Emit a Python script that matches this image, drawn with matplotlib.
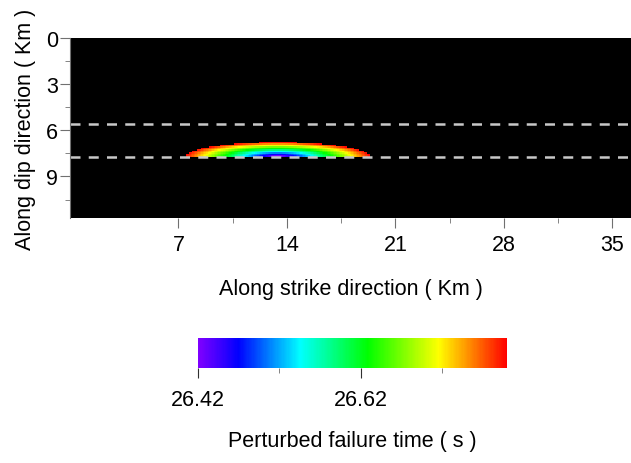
import numpy as np
import matplotlib
matplotlib.use("Agg")
import matplotlib.pyplot as plt
from matplotlib.colors import LinearSegmentedColormap
from matplotlib.ticker import MultipleLocator, FixedLocator

plt.rcParams['font.family'] = ['Liberation Sans', 'DejaVu Sans']

# fault plane extent (km)
strike_len = 36.2
dip_len = 11.7
grid_step = 0.1

# rupture patch: hypocentre, semi-axes and failure time range
hypo_x, hypo_z = 13.4, 7.76
semi_x, semi_z = 6.0, 0.98
t_min, t_max = 26.42, 26.80
t_hypo = 26.40

# layer boundaries drawn as dashed lines
layer_depths = [5.6, 7.76]

xticks = [7, 14, 21, 28, 35]
xticks_minor = [10.5, 17.5, 24.5, 31.5]
yticks = [0, 3, 6, 9]
cbar_ticks = [26.42, 26.62]
cbar_ticks_minor = [26.52, 26.72]

rainbow = LinearSegmentedColormap.from_list(
    "rainbow_gmt",
    [(0.00, "#8000ff"), (0.13, "#0000ff"), (0.33, "#00ffff"),
     (0.55, "#00ff00"), (0.78, "#ffff00"), (1.00, "#ff0000")])
rainbow.set_under("black")
rainbow.set_bad("black")

x = np.arange(0, strike_len + grid_step, grid_step)
z = np.arange(0, dip_len + grid_step, grid_step)
X, Z = np.meshgrid(x, z)
rho = np.sqrt(((X - hypo_x) / semi_x) ** 2 + ((Z - hypo_z) / semi_z) ** 2)
tf = t_hypo + (t_max - t_hypo) * rho
tf = np.where((rho <= 1.0) & (Z <= hypo_z), tf, np.nan)

fs = 15.5
grey = "#707070"

fig = plt.figure(figsize=(6.31, 4.64), dpi=100)
ax = fig.add_axes([70 / 631, 1 - 219 / 464, (631 - 70) / 631, 180 / 464])
im = ax.imshow(tf, cmap=rainbow, vmin=t_min, vmax=t_max, origin="upper",
               extent=[0, strike_len, dip_len, 0], aspect="auto",
               interpolation="nearest")
ax.set_facecolor("black")
for d in layer_depths:
    ax.axhline(d, color="#c8c8c8", lw=1.8, dashes=(4, 3.3))

ax.set_xlim(0, strike_len)
ax.set_ylim(dip_len, 0)
ax.set_xticks(xticks)
ax.set_yticks(yticks)
ax.xaxis.set_minor_locator(FixedLocator(xticks_minor))
ax.yaxis.set_minor_locator(MultipleLocator(1.5))
for s in ["top", "right", "bottom"]:
    ax.spines[s].set_visible(False)
ax.spines["left"].set_color(grey)
ax.tick_params(which="major", length=7.2, color=grey, labelsize=fs)
ax.tick_params(axis="x", which="major", pad=4)
ax.tick_params(axis="y", which="major", pad=1.5)
ax.tick_params(which="minor", length=3.6, color=grey)
ax.set_xlabel("Along strike direction ( Km )", fontsize=fs, labelpad=17)
ax.set_ylabel("Along dip direction ( Km )", fontsize=fs, labelpad=7)

cax = fig.add_axes([198 / 631, 1 - 369 / 464, 309 / 631, 30 / 464])
cb = fig.colorbar(im, cax=cax, orientation="horizontal")
cb.outline.set_visible(False)
cb.set_ticks(cbar_ticks)
cax.xaxis.set_minor_locator(FixedLocator(cbar_ticks_minor))
cax.tick_params(which="major", length=7.2, color="#303030", labelsize=fs, pad=8)
cax.tick_params(which="minor", length=3.6, color=grey)
cb.set_label("Perturbed failure time ( s )", fontsize=fs, labelpad=14)

fig.savefig("out.png", dpi=100)
